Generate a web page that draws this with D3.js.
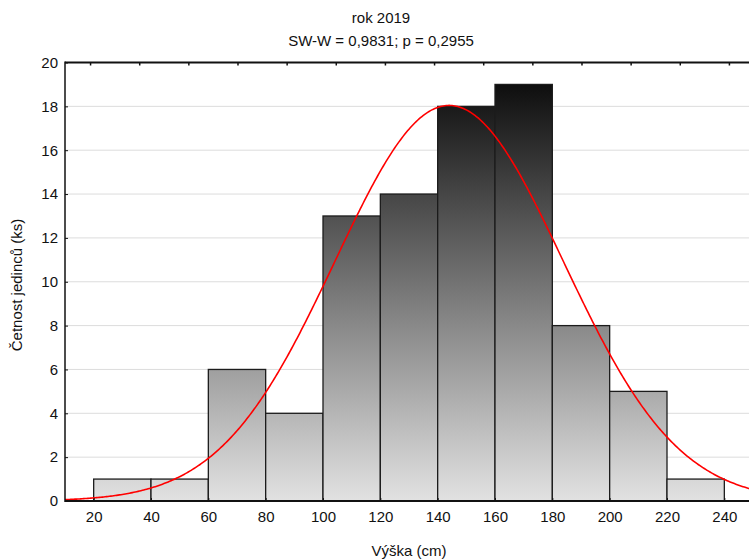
<!DOCTYPE html>
<html>
<head>
<meta charset="utf-8">
<script src="https://cdn.jsdelivr.net/npm/d3@7"></script>
<style>
  body { margin: 0; background: #fff; }
  text { font-family: "Liberation Sans", Arial, sans-serif; fill: #111; }
</style>
</head>
<body>
<svg id="chart"></svg>
<script>
// bin edges and counts
var binStart = [20, 40, 60, 80, 100, 120, 140, 160, 180, 200, 220];
var binWidth = 20;
var counts   = [1, 1, 6, 4, 13, 14, 18, 19, 8, 5, 1];
var xTicks = [20, 40, 60, 80, 100, 120, 140, 160, 180, 200, 220, 240];
var yTicks = [0, 2, 4, 6, 8, 10, 12, 14, 16, 18, 20];
// fitted normal curve
var fitMean = 144;
var fitSd = 39.8;

function drawChart(){
    var width = 749, height = 560;
    var pLeft = 65, pRight = 753, pTop = 62.5, pBottom = 501;

    var svg = d3.select("#chart")
	.attr("width", width)
	.attr("height", height);

    var x = d3.scaleLinear().domain([10, 250]).range([pLeft, pRight]);
    var y = d3.scaleLinear().domain([0, 20]).range([pBottom, pTop]);

    // gradient from dark at the top of the tallest bar to light grey at 0
    var grad = svg.append("defs").append("linearGradient")
	.attr("id", "barGrad")
	.attr("gradientUnits", "userSpaceOnUse")
	.attr("x1", 0).attr("x2", 0)
	.attr("y1", y(d3.max(counts))).attr("y2", y(0));
    grad.append("stop").attr("offset", 0).attr("stop-color", "#0e0e0e");
    grad.append("stop").attr("offset", 1).attr("stop-color", "#e2e2e2");

    // grid
    svg.append("g").selectAll("line")
	.data(yTicks.filter(function(d){ return d > 0 && d < 20; }))
	.enter().append("line")
	.attr("x1", pLeft).attr("x2", pRight)
	.attr("y1", function(d){ return y(d); })
	.attr("y2", function(d){ return y(d); })
	.attr("stroke", "#dcdcdc")
	.attr("stroke-width", 1);

    // bars
    svg.append("g").selectAll("rect")
	.data(counts)
	.enter().append("rect")
	.attr("x", function(d, i){ return x(binStart[i]); })
	.attr("width", function(d, i){ return x(binStart[i] + binWidth) - x(binStart[i]); })
	.attr("y", function(d){ return y(d); })
	.attr("height", function(d){ return y(0) - y(d); })
	.attr("fill", "url(#barGrad)")
	.attr("stroke", "#1c1c1c")
	.attr("stroke-width", 1.3);

    // normal curve
    var n = d3.sum(counts);
    var curveX = d3.range(10, 250.5, 0.5);
    var line = d3.line()
	.x(function(d){ return x(d); })
	.y(function(d){
	    var z = (d - fitMean) / fitSd;
	    return y(n * binWidth * Math.exp(-0.5 * z * z) / (fitSd * Math.sqrt(2 * Math.PI)));
	});
    svg.append("path")
	.datum(curveX)
	.attr("d", line)
	.attr("fill", "none")
	.attr("stroke", "#ff0000")
	.attr("stroke-width", 1.6);

    // axes
    var gx = svg.append("g").attr("transform", "translate(0," + pBottom + ")")
	.call(d3.axisBottom(x).tickValues(xTicks).tickSize(-3).tickPadding(10));
    gx.select(".domain").remove();
    gx.selectAll(".tick line").attr("stroke", "#111");
    gx.selectAll("text").style("font-size", "15px").attr("fill", "#111");

    var gy = svg.append("g").attr("transform", "translate(" + pLeft + ",0)")
	.call(d3.axisLeft(y).tickValues(yTicks).tickSize(-3).tickPadding(7));
    gy.select(".domain").remove();
    gy.selectAll(".tick line").attr("stroke", "#111");
    gy.selectAll("text").style("font-size", "15px").attr("fill", "#111");

    // top axis with its own unlabeled ticks
    var xTop = d3.scaleLinear().domain([-0.51, 13.49]).range([pLeft, pRight]);
    var gt = svg.append("g").attr("transform", "translate(0," + pTop + ")")
	.call(d3.axisTop(xTop).ticks(14).tickSize(-3).tickFormat(""));
    gt.select(".domain").remove();
    gt.selectAll(".tick line").attr("stroke", "#111").attr("stroke-width", 1.5);

    // frame
    svg.append("line").attr("x1", pLeft).attr("x2", pRight).attr("y1", pTop).attr("y2", pTop)
	.attr("stroke", "#111").attr("stroke-width", 2);
    svg.append("line").attr("x1", pLeft).attr("x2", pRight).attr("y1", pBottom).attr("y2", pBottom)
	.attr("stroke", "#111").attr("stroke-width", 2);
    svg.append("line").attr("x1", pLeft).attr("x2", pLeft).attr("y1", pTop - 1).attr("y2", pBottom + 1)
	.attr("stroke", "#111").attr("stroke-width", 1.5);

    // titles
    svg.append("text").attr("x", 381).attr("y", 23).attr("text-anchor", "middle")
	.style("font-size", "15px").text("rok 2019");
    svg.append("text").attr("x", 381).attr("y", 46).attr("text-anchor", "middle")
	.style("font-size", "15px").text("SW-W = 0,9831; p = 0,2955");
    svg.append("text").attr("x", 409).attr("y", 556).attr("text-anchor", "middle")
	.style("font-size", "15px").text("Výška (cm)");
    svg.append("text")
	.attr("transform", "translate(22,285) rotate(-90)")
	.attr("text-anchor", "middle")
	.style("font-size", "15px").text("Četnost jedinců (ks)");
}

drawChart();
</script>
</body>
</html>
